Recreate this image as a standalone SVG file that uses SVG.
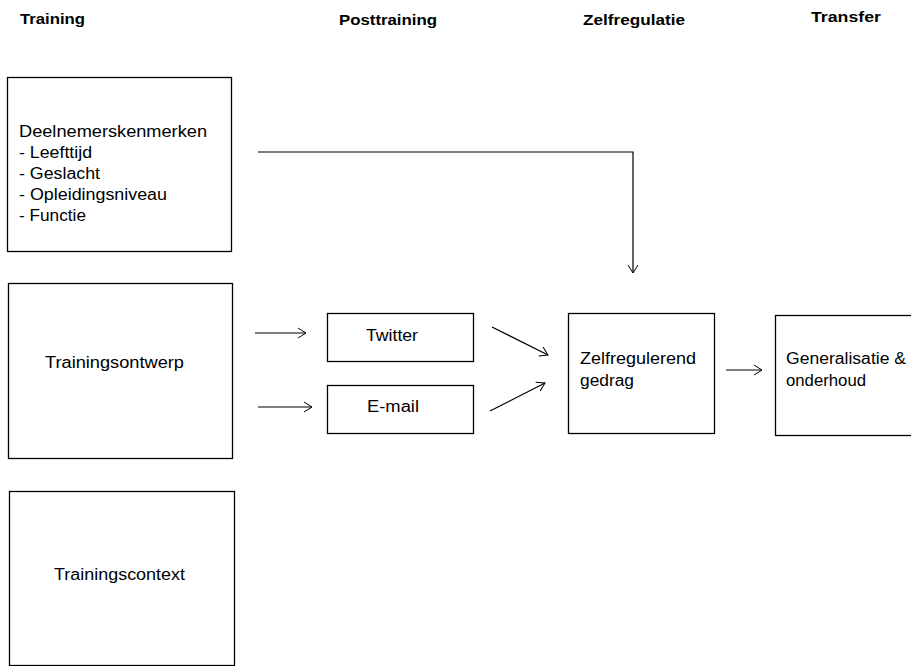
<svg xmlns="http://www.w3.org/2000/svg" width="911" height="666" viewBox="0 0 911 666">
<defs>
<marker id="ah" markerWidth="12" markerHeight="12" refX="10" refY="6" orient="auto" markerUnits="userSpaceOnUse">
<polyline points="2,1 10,6 2,11" fill="none" stroke="#000" stroke-width="1"/>
</marker>
<style>
.box{fill:#fff;stroke:#000;stroke-width:1.3}
.t{font-family:"Liberation Sans",Arial,sans-serif;font-size:16px;fill:#000}
.h{font-family:"Liberation Sans",Arial,sans-serif;font-size:15px;font-weight:bold;fill:#000}
.c{fill:none;stroke:#000;stroke-width:1.2;marker-end:url(#ah)}
</style>
</defs>
<rect width="911" height="666" fill="#fff"/>
<g id="headers">
<text class="h" x="20" y="24" textLength="65" lengthAdjust="spacingAndGlyphs">Training</text>
<text class="h" x="339" y="25" textLength="98" lengthAdjust="spacingAndGlyphs">Posttraining</text>
<text class="h" x="583" y="25" textLength="102" lengthAdjust="spacingAndGlyphs">Zelfregulatie</text>
<text class="h" x="811" y="22" textLength="70" lengthAdjust="spacingAndGlyphs">Transfer</text>
</g>
<g id="connectors">
<polyline class="c" points="258,152 633,152 633,273"/>
<line class="c" x1="255" y1="333" x2="306" y2="333"/>
<line class="c" x1="258" y1="407" x2="312" y2="407"/>
<line class="c" x1="492" y1="327" x2="548" y2="355"/>
<line class="c" x1="490" y1="411" x2="545" y2="383"/>
<line class="c" x1="726" y1="370" x2="762" y2="370"/>
</g>
<g id="deelnemers">
<rect class="box" x="7.5" y="77.5" width="224" height="174"/>
<text class="t" x="19" y="137" textLength="188" lengthAdjust="spacingAndGlyphs">Deelnemerskenmerken</text>
<text class="t" x="19" y="158" textLength="73" lengthAdjust="spacingAndGlyphs">- Leefttijd</text>
<text class="t" x="19" y="179" textLength="81" lengthAdjust="spacingAndGlyphs">- Geslacht</text>
<text class="t" x="19" y="200" textLength="148" lengthAdjust="spacingAndGlyphs">- Opleidingsniveau</text>
<text class="t" x="19" y="221" textLength="67" lengthAdjust="spacingAndGlyphs">- Functie</text>
</g>
<g id="ontwerp">
<rect class="box" x="8.5" y="283.5" width="224" height="175"/>
<text class="t" x="45" y="368" textLength="139" lengthAdjust="spacingAndGlyphs">Trainingsontwerp</text>
</g>
<g id="context">
<rect class="box" x="9.5" y="491.5" width="225" height="174"/>
<text class="t" x="54" y="580" textLength="131" lengthAdjust="spacingAndGlyphs">Trainingscontext</text>
</g>
<g id="twitter">
<rect class="box" x="327.5" y="313.5" width="146" height="48"/>
<text class="t" x="366" y="341" textLength="52" lengthAdjust="spacingAndGlyphs">Twitter</text>
</g>
<g id="email">
<rect class="box" x="327.5" y="385.5" width="146" height="48"/>
<text class="t" x="367" y="412" textLength="52" lengthAdjust="spacingAndGlyphs">E-mail</text>
</g>
<g id="zelfregulerend">
<rect class="box" x="568.5" y="313.5" width="146" height="120"/>
<text class="t" x="580" y="364" textLength="116" lengthAdjust="spacingAndGlyphs">Zelfregulerend</text>
<text class="t" x="580" y="386" textLength="54" lengthAdjust="spacingAndGlyphs">gedrag</text>
</g>
<g id="generalisatie">
<rect class="box" x="775.5" y="315.5" width="146" height="120"/>
<text class="t" x="786" y="364" textLength="120" lengthAdjust="spacingAndGlyphs">Generalisatie &amp;</text>
<text class="t" x="786" y="386" textLength="80" lengthAdjust="spacingAndGlyphs">onderhoud</text>
</g>
</svg>
